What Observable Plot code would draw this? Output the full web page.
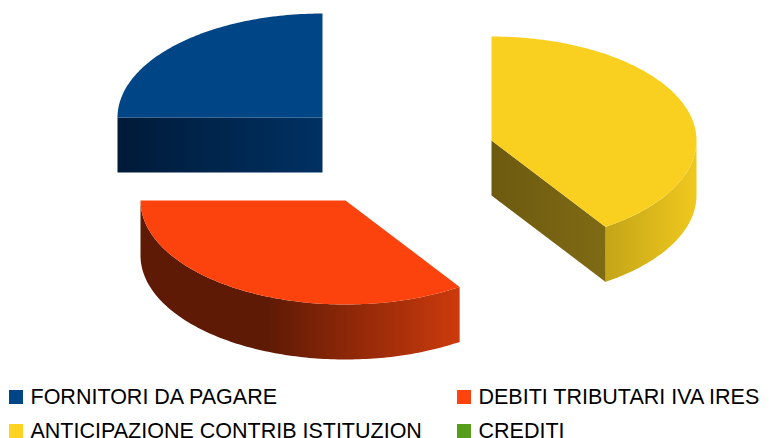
<!DOCTYPE html>
<html><head><meta charset="utf-8">
<style>html,body{margin:0;padding:0;background:#fff}svg{display:block}</style>
<script src="https://cdn.jsdelivr.net/npm/d3@7"></script>
<script src="https://cdn.jsdelivr.net/npm/@observablehq/plot@0.6"></script>
</head><body><script>
const categories = ["FORNITORI DA PAGARE","DEBITI TRIBUTARI IVA IRES","ANTICIPAZIONE CONTRIB ISTITUZION","CREDITI"];
const shares = [25, 34.4, 40.6, 0];
const colors = ["#004586","#ff420e","#ffd320","#579d1c"];
const topColors = ["#004586","#fc430e","#f9d020","#579d1c"];

// layout
const W = 783, H = 438, rx = 205, ry = 104, depth = 55;
const centers = [[322,117],[345,200],[491,140],[392,155]];

// slices run counter-clockwise from 12 o'clock
let acc = 90;
const slices = shares.map((v,i)=>{const a0=acc; acc+=v*3.6; return {i,a0,a1:acc,cx:centers[i][0],cy:centers[i][1]};});
const pt=(s,a,dz=0)=>[s.cx+rx*Math.cos(a*Math.PI/180), s.cy-ry*Math.sin(a*Math.PI/180)+dz];
const arc=(s,a0,a1,dz=0)=>{const n=Math.max(2,Math.ceil(Math.abs(a1-a0)));return d3.range(n+1).map(k=>pt(s,a0+(a1-a0)*k/n,dz));};
const topFace=s=>[[s.cx,s.cy],...arc(s,s.a0,s.a1)];
const ribbon=(s,a0,a1)=>[...arc(s,a0,a1),...arc(s,a1,a0,depth)];
const cutFace=(s,a)=>{const p=pt(s,a);return [[s.cx,s.cy],p,[p[0],p[1]+depth],[s.cx,s.cy+depth]];};
const [blue,red,yellow]=slices;
const poly=pts=>pts.map(([x,y])=>({x,y}));
const face=(pts,fill)=>Plot.line(poly(pts),{x:"x",y:"y",fill,stroke:"none",curve:"linear-closed"});

const defs=()=>{
  const grad=(id,stops,x1=0,x2=1)=>`<linearGradient id="${id}" x1="${x1}" x2="${x2}" y1="0" y2="0">${stops.map(([o,c])=>`<stop offset="${o}" stop-color="${c}"/>`).join("")}</linearGradient>`;
  const s=d3.create("svg:defs");
  s.html(
    grad("gBlue",[[0,"#001a38"],[1,"#003163"]])+
    grad("gRed",[[0,"#5f1a05"],[0.4,"#5f1a05"],[1,"#cc3a0c"]])+
    grad("gYellowCut",[[0,"#6d5a10"],[1,"#7f6a14"]])+
    grad("gYellowOut",[[0,"#c4a518"],[1,"#f0c81e"]]));
  return s.node();
};

const legend = categories.map((c,i)=>({c,i,col:i%2,row:Math.floor(i/2)}));
const swX=[9,457], txX=[30,478], rowY=[397,431];

const chart = Plot.plot({
  width:W,height:H,margin:0,
  x:{domain:[0,W],range:[0,W],axis:null},
  y:{domain:[0,H],range:[0,H],axis:null},
  style:{background:"#fff"},
  marks:[
    defs,
    face(ribbon(blue,blue.a1,blue.a1),"none"),
    face(cutFace(blue,blue.a1),"url(#gBlue)"),
    face(topFace(blue),topColors[0]),
    face(ribbon(red,red.a0,red.a1),"url(#gRed)"),
    face(topFace(red),topColors[1]),
    face(cutFace(yellow,yellow.a0),"url(#gYellowCut)"),
    face(ribbon(yellow,yellow.a0,360),"url(#gYellowOut)"),
    face(topFace(yellow),topColors[2]),
    Plot.rect(legend,{x1:d=>swX[d.col],x2:d=>swX[d.col]+14,y1:d=>rowY[d.row]-7,y2:d=>rowY[d.row]+7,fill:d=>colors[d.i],stroke:"none"}),
    Plot.text(legend,{x:d=>txX[d.col],y:d=>rowY[d.row],text:"c",textAnchor:"start",fontFamily:"Liberation Sans",fontSize:21.5,fill:"#000"})
  ]
});
document.body.appendChild(chart);
</script></body></html>
